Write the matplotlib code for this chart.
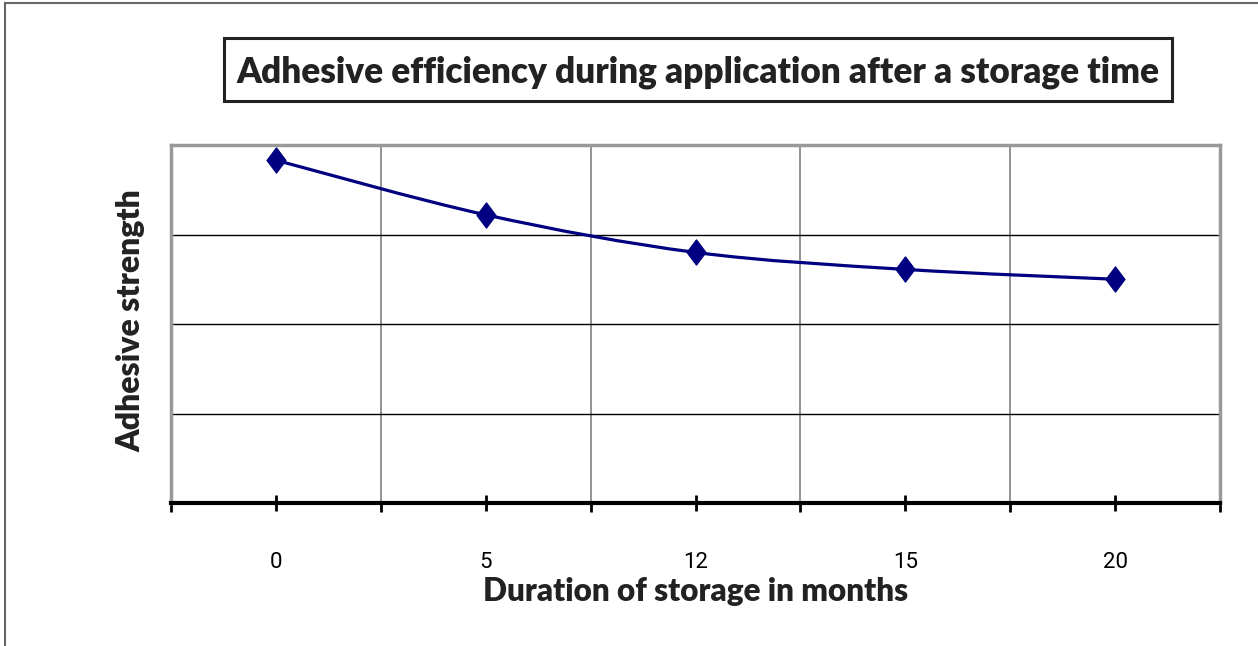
import numpy as np
import matplotlib.pyplot as plt
from matplotlib.path import Path
from matplotlib.patches import PathPatch, Rectangle
from matplotlib.lines import Line2D

# Storage durations (months) and adhesive strength
months = ["0", "5", "12", "15", "20"]
strength = [3.83, 3.22, 2.80, 2.61, 2.50]

TITLE = "Adhesive efficiency during application after a storage time"
XLABEL = "Duration of storage in months"
YLABEL = "Adhesive strength"

NAVY = "#000080"
BOLD_FONT = ["Lato", "DejaVu Sans"]
TICK_FONT = ["Liberation Sans Narrow", "Roboto", "DejaVu Sans"]

fig = plt.figure(figsize=(12.58, 6.46), dpi=100)
ax = fig.add_axes([171 / 1258, 1 - 503 / 646, (1220 - 171) / 1258, (503 - 145) / 646])

x = np.arange(len(months))
y = np.array(strength)

# Smoothed line like the spreadsheet one: cubic Bezier segments through the points
pts = np.column_stack([x, y])
ext = np.vstack([pts[0], pts, pts[-1]])
verts = [tuple(pts[0])]
codes = [Path.MOVETO]
for i in range(len(pts) - 1):
    p0, p1, p2, p3 = ext[i], ext[i + 1], ext[i + 2], ext[i + 3]
    c1 = p1 + (p2 - p0) / 6
    c2 = p2 - (p3 - p1) / 6
    verts += [tuple(c1), tuple(c2), tuple(p2)]
    codes += [Path.CURVE4] * 3
ax.add_patch(PathPatch(Path(verts, codes), facecolor="none", edgecolor=NAVY,
                       lw=2.3, zorder=3, capstyle="round"))

diamond = Path([(0, 1), (0.75, 0), (0, -1), (-0.75, 0), (0, 1)],
               [Path.MOVETO, Path.LINETO, Path.LINETO, Path.LINETO, Path.CLOSEPOLY])
ax.plot(x, y, linestyle="none", marker=diamond, markersize=18,
        color=NAVY, markeredgecolor=NAVY, zorder=4)

ax.set_xlim(-0.5, len(months) - 0.5)
ax.set_ylim(0, 4)

# Gridlines: vertical at category boundaries (grey), horizontal black
for b in np.arange(0.5, len(months) - 0.5, 1):
    ax.axvline(b, color="#808080", lw=1.2, zorder=1)
for g in [1, 2, 3]:
    ax.axhline(g, color="black", lw=1.0, zorder=1)

ax.set_yticks([])
ax.set_xticks(x)
ax.set_xticklabels(months, family=TICK_FONT, fontsize=16)
ax.set_xticks(np.arange(-0.5, len(months), 1), minor=True)
ax.tick_params(axis="x", which="major", direction="inout", length=12, width=2,
               pad=29, color="black")
ax.tick_params(axis="x", which="minor", direction="out", length=6.5, width=2,
               color="black")

for side in ["top", "left", "right"]:
    ax.spines[side].set_color("#999999")
    ax.spines[side].set_linewidth(2.5)
ax.spines["bottom"].set_color("black")
ax.spines["bottom"].set_linewidth(3)
ax.spines["bottom"].set_zorder(5)

ax.set_xlabel(XLABEL, family=BOLD_FONT, fontweight=800, fontsize=22.7,
              color="#222222", labelpad=3)
fig.text(131 / 1258, 1 - 321 / 646, YLABEL, rotation=90, family=BOLD_FONT,
         fontweight=800, fontsize=23, color="#222222", ha="center", va="center")

# Title inside a black box
fig.patches.append(Rectangle((224 / 1258, 1 - 101 / 646), (1172 - 224) / 1258, 63 / 646,
                             transform=fig.transFigure, facecolor="white",
                             edgecolor="#222222", lw=2.2))
fig.text(698 / 1258, 1 - 72 / 646, TITLE, family=BOLD_FONT, fontweight=800,
         fontsize=25.3, color="#222222", ha="center", va="center")

# Outer chart border (left and top edges visible)
fig.add_artist(Line2D([5 / 1258, 5 / 1258], [0, 1 - 3 / 646], transform=fig.transFigure,
                      color="#666666", lw=1.5))
fig.add_artist(Line2D([5 / 1258, 1], [1 - 3 / 646, 1 - 3 / 646], transform=fig.transFigure,
                      color="#666666", lw=1.5))

plt.savefig("out.png", dpi=100)
